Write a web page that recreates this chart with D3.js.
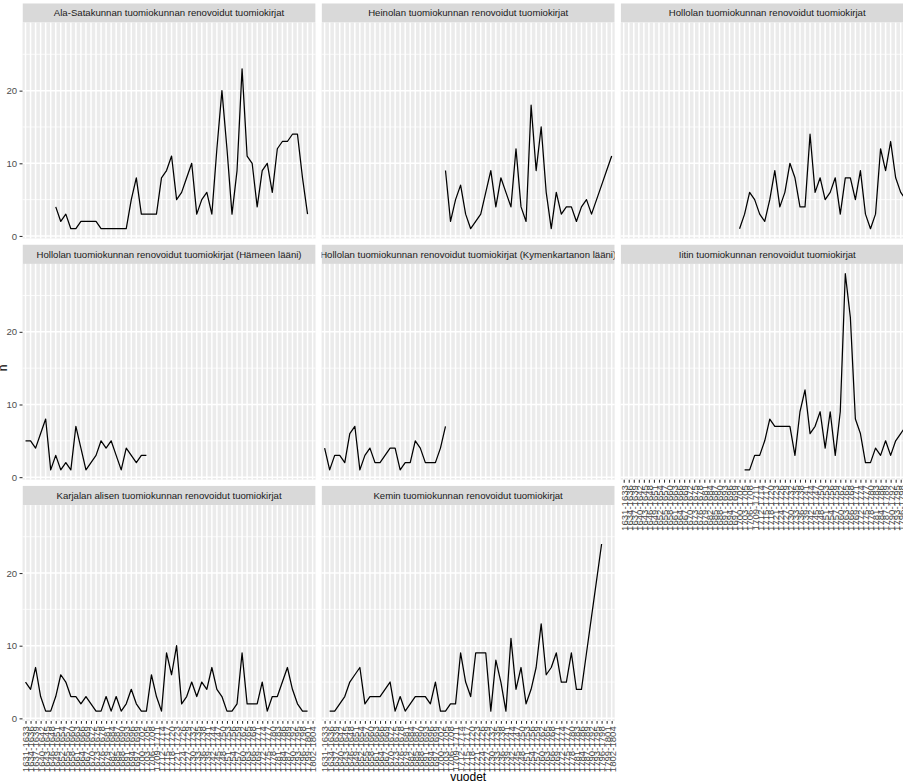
<!DOCTYPE html>
<html>
<head>
<meta charset="utf-8">
<script src="https://cdn.jsdelivr.net/npm/d3@7"></script>
<style>
  html, body { margin: 0; padding: 0; background: #fff; overflow: hidden; }
  svg { display: block; font-family: "Liberation Sans", Arial, sans-serif; }
</style>
</head>
<body>
<svg id="main-chart"></svg>
<script>
// Categories on the x axis (periods)
const years = [
    "1631-1633", "1634-1636", "1637-1639", "1640-1642", "1643-1645", "1646-1648", "1649-1651", "1652-1654", "1655-1657", "1658-1660",
    "1661-1663", "1664-1666", "1667-1669", "1670-1672", "1673-1675", "1676-1678", "1679-1681", "1682-1684", "1685-1687", "1688-1690",
    "1691-1693", "1694-1696", "1697-1699", "1700-1702", "1703-1705", "1706-1708", "1709-1711", "1712-1714", "1715-1717", "1718-1720",
    "1721-1723", "1724-1726", "1727-1729", "1730-1732", "1733-1735", "1736-1738", "1739-1741", "1742-1744", "1745-1747", "1748-1750",
    "1751-1753", "1754-1756", "1757-1759", "1760-1762", "1763-1765", "1766-1768", "1769-1771", "1772-1774", "1775-1777", "1778-1780",
    "1781-1783", "1784-1786", "1787-1789", "1790-1792", "1793-1795", "1796-1798", "1799-1801", "1802-1804"
];

const panelTitles = [
    "Ala-Satakunnan tuomiokunnan renovoidut tuomiokirjat",
    "Heinolan tuomiokunnan renovoidut tuomiokirjat",
    "Hollolan tuomiokunnan renovoidut tuomiokirjat",
    "Hollolan tuomiokunnan renovoidut tuomiokirjat (Hämeen lääni)",
    "Hollolan tuomiokunnan renovoidut tuomiokirjat (Kymenkartanon lääni)",
    "Iitin tuomiokunnan renovoidut tuomiokirjat",
    "Karjalan alisen tuomiokunnan renovoidut tuomiokirjat",
    "Kemin tuomiokunnan renovoidut tuomiokirjat"
];

// n per period, null = no records
const alaSatakunta = [null, null, null, null, null, null, 4, 2, 3, 1,
    1, 2, 2, 2, 2, 1, 1, 1, 1, 1,
    1, 5, 8, 3, 3, 3, 3, 8, 9, 11,
    5, 6, 8, 10, 3, 5, 6, 3, 12, 20,
    12, 3, 9, 23, 11, 10, 4, 9, 10, 6,
    12, 13, 13, 14, 14, 8, 3, null];

const heinola = [null, null, null, null, null, null, null, null, null, null,
    null, null, null, null, null, null, null, null, null, null,
    null, null, null, null, 9, 2, 5, 7, 3, 1,
    2, 3, 6, 9, 4, 8, 6, 4, 12, 4,
    2, 18, 9, 15, 6, 1, 6, 3, 4, 4,
    2, 4, 5, 3, 5, 7, 9, 11];

const hollola = [null, null, null, null, null, null, null, null, null, null,
    null, null, null, null, null, null, null, null, null, null,
    null, null, null, 1, 3, 6, 5, 3, 2, 5,
    9, 4, 6, 10, 8, 4, 4, 14, 6, 8,
    5, 6, 8, 3, 8, 8, 5, 9, 3, 1,
    3, 12, 9, 13, 8, 6, 5, 4];

const hollolaHame = [5, 5, 4, 6, 8, 1, 3, 1, 2, 1,
    7, 4, 1, 2, 3, 5, 4, 5, 3, 1,
    4, 3, 2, 3, 3, null, null, null, null, null,
    null, null, null, null, null, null, null, null, null, null,
    null, null, null, null, null, null, null, null, null, null,
    null, null, null, null, null, null, null, null];

const hollolaKymi = [4, 1, 3, 3, 2, 6, 7, 1, 3, 4,
    2, 2, 3, 4, 4, 1, 2, 2, 5, 4,
    2, 2, 2, 4, 7, null, null, null, null, null,
    null, null, null, null, null, null, null, null, null, null,
    null, null, null, null, null, null, null, null, null, null,
    null, null, null, null, null, null, null, null];

const iitti = [null, null, null, null, null, null, null, null, null, null,
    null, null, null, null, null, null, null, null, null, null,
    null, null, null, null, 1, 1, 3, 3, 5, 8,
    7, 7, 7, 7, 3, 9, 12, 6, 7, 9,
    4, 9, 3, 9, 28, 22, 8, 6, 2, 2,
    4, 3, 5, 3, 5, 6, 7, 8];

const karjalaAlinen = [5, 4, 7, 3, 1, 1, 3, 6, 5, 3,
    3, 2, 3, 2, 1, 1, 3, 1, 3, 1,
    2, 4, 2, 1, 1, 6, 3, 1, 9, 6,
    10, 2, 3, 5, 3, 5, 4, 7, 4, 3,
    1, 1, 2, 9, 2, 2, 2, 5, 1, 3,
    3, 5, 7, 4, 2, 1, 1, null];

const kemi = [null, 1, 1, 2, 3, 5, 6, 7, 2, 3,
    3, 3, 4, 5, 1, 3, 1, 2, 3, 3,
    3, 2, 5, 1, 1, 2, 2, 9, 5, 3,
    9, 9, 9, 1, 8, 5, 1, 11, 4, 7,
    2, 4, 7, 13, 6, 7, 9, 5, 5, 9,
    4, 4, 9, 14, 19, 24, null, null];

const panelSeries = [alaSatakunta, heinola, hollola, hollolaHame, hollolaKymi, iitti, karjalaAlinen, kemi];

const yTicks = [0, 10, 20];
const yMinorTicks = [5, 15, 25];

class FacetLineChart {
    constructor() {
        this.setupDimensions();
        this.setupScales();
        this.createChart();
        this.drawPanels();
        this.drawAxisTitles();
    }

    setupDimensions() {
        this.svgWidth = 925;
        this.svgHeight = 783;
        this.left = 22.5;
        this.top = 3.3;
        this.panelWidth = 293.1;
        this.panelHeight = 215.8;
        this.stripHeight = 19.4;
        this.gapX = 6;
        this.gapY = 6;
        this.ncol = 3;
        this.tickLength = 2.97;
        this.tickPad = 2.4;
        this.fontSmall = 9.6;
    }

    setupScales() {
        this.x = d3.scalePoint()
            .domain(years)
            .range([0, this.panelWidth])
            .padding(0.6);

        // ggplot style 5% expansion around the data range
        const all = panelSeries.flat().filter(v => v != null);
        const [lo, hi] = d3.extent(all);
        const pad = (hi - lo) * 0.05;
        this.y = d3.scaleLinear()
            .domain([lo - pad, hi + pad])
            .range([this.panelHeight, 0]);
    }

    createChart() {
        this.svg = d3.select('#main-chart')
            .attr('width', this.svgWidth)
            .attr('height', this.svgHeight);
        this.defs = this.svg.append('defs');
    }

    panelOrigin(i) {
        const col = i % this.ncol;
        const row = Math.floor(i / this.ncol);
        const x = this.left + col * (this.panelWidth + this.gapX);
        const stripY = this.top + row * (this.stripHeight + this.panelHeight + this.gapY);
        return { x, stripY, y: stripY + this.stripHeight, col, row };
    }

    drawPanels() {
        const n = panelSeries.length;
        panelSeries.forEach((series, i) => {
            const o = this.panelOrigin(i);
            this.drawStrip(i, o);

            const g = this.svg.append('g')
                .attr('class', 'panel')
                .attr('transform', `translate(${o.x},${o.y})`);

            g.append('rect')
                .attr('width', this.panelWidth)
                .attr('height', this.panelHeight)
                .attr('fill', '#EBEBEB');

            g.selectAll('.grid-minor')
                .data(yMinorTicks)
                .join('line')
                .attr('class', 'grid-minor')
                .attr('x1', 0).attr('x2', this.panelWidth)
                .attr('y1', d => this.y(d)).attr('y2', d => this.y(d))
                .attr('stroke', '#fff')
                .attr('stroke-width', 0.77);

            g.selectAll('.grid-major-y')
                .data(yTicks)
                .join('line')
                .attr('class', 'grid-major-y')
                .attr('x1', 0).attr('x2', this.panelWidth)
                .attr('y1', d => this.y(d)).attr('y2', d => this.y(d))
                .attr('stroke', '#fff')
                .attr('stroke-width', 1.5);

            g.selectAll('.grid-major-x')
                .data(years)
                .join('line')
                .attr('class', 'grid-major-x')
                .attr('x1', d => this.x(d)).attr('x2', d => this.x(d))
                .attr('y1', 0).attr('y2', this.panelHeight)
                .attr('stroke', '#fff')
                .attr('stroke-width', 1.5);

            const line = d3.line()
                .defined(d => d != null)
                .x((d, j) => this.x(years[j]))
                .y(d => this.y(d));

            g.append('path')
                .datum(series)
                .attr('d', line)
                .attr('fill', 'none')
                .attr('stroke', '#000')
                .attr('stroke-width', 1.25)
                .attr('stroke-linejoin', 'round');

            if (o.col === 0) this.drawYAxis(g);
            if (i + this.ncol >= n) this.drawXAxis(g);
        });
    }

    drawStrip(i, o) {
        const clipId = `strip-clip-${i}`;
        this.defs.append('clipPath')
            .attr('id', clipId)
            .append('rect')
            .attr('width', this.panelWidth)
            .attr('height', this.stripHeight);

        const s = this.svg.append('g')
            .attr('class', 'strip')
            .attr('transform', `translate(${o.x},${o.stripY})`)
            .attr('clip-path', `url(#${clipId})`);

        s.append('rect')
            .attr('width', this.panelWidth)
            .attr('height', this.stripHeight)
            .attr('fill', '#D9D9D9');

        s.append('text')
            .attr('x', this.panelWidth / 2)
            .attr('y', this.stripHeight / 2)
            .attr('dy', '0.35em')
            .attr('text-anchor', 'middle')
            .style('font-size', `${this.fontSmall}px`)
            .style('fill', '#1A1A1A')
            .text(panelTitles[i]);
    }

    drawYAxis(g) {
        const axis = g.append('g')
            .attr('class', 'y-axis')
            .call(d3.axisLeft(this.y)
                .tickValues(yTicks)
                .tickSizeInner(this.tickLength)
                .tickSizeOuter(0)
                .tickPadding(this.tickPad));
        axis.select('.domain').remove();
        axis.selectAll('line').attr('stroke', '#333333').attr('stroke-width', 1.07);
        axis.selectAll('text')
            .attr('font-family', null)
            .style('font-size', `${this.fontSmall}px`)
            .style('fill', '#4D4D4D');
        axis.attr('font-family', null).attr('font-size', null);
    }

    drawXAxis(g) {
        const axis = g.append('g')
            .attr('class', 'x-axis')
            .attr('transform', `translate(0,${this.panelHeight})`)
            .call(d3.axisBottom(this.x)
                .tickSizeInner(this.tickLength)
                .tickSizeOuter(0)
                .tickPadding(this.tickPad));
        axis.select('.domain').remove();
        axis.attr('font-family', null).attr('font-size', null);
        axis.selectAll('line').attr('stroke', '#333333').attr('stroke-width', 1.07);
        axis.selectAll('text')
            .attr('transform', 'rotate(-90)')
            .attr('text-anchor', 'end')
            .attr('x', -(this.tickLength + this.tickPad))
            .attr('y', 0)
            .attr('dy', '0.35em')
            .style('font-size', `${this.fontSmall}px`)
            .style('fill', '#4D4D4D');
    }

    drawAxisTitles() {
        const last = this.panelOrigin(this.ncol - 1);
        const centerX = (this.left + last.x + this.panelWidth) / 2;

        this.svg.append('text')
            .attr('x', centerX)
            .attr('y', 781)
            .attr('text-anchor', 'middle')
            .style('font-size', '12px')
            .style('fill', '#000')
            .text('vuodet');

        this.svg.append('text')
            .attr('transform', 'translate(7,368) rotate(-90)')
            .attr('text-anchor', 'middle')
            .style('font-size', '12px')
            .style('fill', '#000')
            .text('n');
    }
}

document.addEventListener('DOMContentLoaded', () => {
    new FacetLineChart();
});
</script>
</body>
</html>
